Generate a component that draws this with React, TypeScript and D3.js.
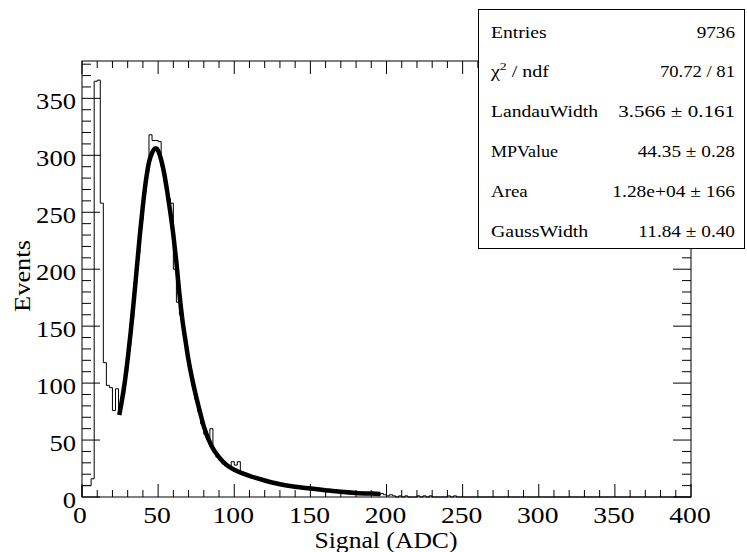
import React from 'react';
import * as d3 from 'd3';

const W = 747;
const H = 552;

const xDomain = [0, 400];
const yDomain = [0, 382.8];
const binWidth = 2;
const nBins = 200;

// histogram bin contents, bin i covers [2i, 2i+2]
const binCounts = [
  10, 10, 10, 16, 365, 366, 258, 118, 98, 96,
  76, 95, 77, 90, 110, 133, 157, 188, 214, 243,
  268, 286, 318, 313, 313, 312, 290, 276, 262, 258,
  200, 171, 160, 143, 127, 112, 98, 86, 75, 64,
  55, 50, 60, 40, 35, 32, 29, 27, 26, 31,
  28, 31, 22, 21, 19, 18, 17, 16, 15, 15,
  14, 13, 13, 12, 12, 11, 11, 10, 10, 9,
  9, 9, 8, 8, 8, 8, 7, 7, 6, 6,
  6, 6, 5, 5, 5, 5, 4, 4, 4, 4,
  4, 3, 4, 3, 3, 3, 3, 2, 3, 2,
  1, 2, 1, 0, 1, 0, 1, 0, 0, 0,
  1, 0, 1, 0, 1, 0, 0, 0, 0, 0,
  1, 0, 1,
];

// fit curve points
const fitX = [24.5, 26, 28, 30, 32, 34, 36, 38, 40, 42, 44, 46, 48, 49, 50, 52, 54, 56, 58, 60, 62, 64, 66, 68, 70, 72, 75, 78, 80, 85, 90, 95, 100, 105, 110, 120, 130, 140, 150, 160, 170, 180, 190, 196];
const fitY = [72, 83, 100, 121, 145, 172, 201, 230, 256, 278, 294, 302, 306, 306, 304, 296, 284, 268, 250, 230, 206, 178, 155, 137, 120, 106, 88, 72, 62, 45, 35, 28, 24, 21, 18.5, 14.5, 11.2, 9, 7.5, 6, 4.6, 3.6, 3, 2.7];

const xMajorTicks = [0, 50, 100, 150, 200, 250, 300, 350, 400];
const yMajorTicks = [0, 50, 100, 150, 200, 250, 300, 350];

const statsLabels = ['Entries', 'chi2', 'LandauWidth', 'MPValue', 'Area', 'GaussWidth'];
const statsValues = ['9736', '70.72 / 81', '3.566 \u00b1 0.161', '44.35 \u00b1 0.28', '1.28e+04 \u00b1 166', '11.84 \u00b1 0.40'];
const statsLabelWidths = [55.7, 58, 107, 67, 36.7, 97.3];
const statsValueWidths = [38.3, 75, 116.7, 97.3, 122.7, 96.7];

const FONT = "'Liberation Serif', 'Times New Roman', serif";

export default function App() {
  const x = d3.scaleLinear().domain(xDomain).range([82, 691]);
  const y = d3.scaleLinear().domain(yDomain).range([497, 61]);

  const histPts: [number, number][] = [[0, 0]];
  for (let i = 0; i < nBins; i++) {
    const lo = i * binWidth;
    const hi = lo + binWidth;
    const v = binCounts[i] ?? 0;
    histPts.push([lo, v], [hi, v]);
  }
  histPts.push([xDomain[1], 0]);
  const line = d3.line<[number, number]>().x(d => x(d[0])).y(d => y(d[1]));
  const histPath = line(histPts) || '';

  const fitPts: [number, number][] = fitX.map((v, i) => [v, fitY[i]]);
  const fitLine = d3.line<[number, number]>().x(d => x(d[0])).y(d => y(d[1])).curve(d3.curveMonotoneX);
  const fitPath = fitLine(fitPts) || '';

  const xMinor = d3.range(0, 401, 10).filter(v => v % 50 !== 0);
  const yMinor = d3.range(0, 381, 10).filter(v => v % 50 !== 0);

  const L = 82, R = 691, T = 61, B = 497;
  const ticks: JSX.Element[] = [];
  xMajorTicks.forEach((v, i) => {
    const px = x(v);
    ticks.push(<line key={'xb' + i} x1={px} x2={px} y1={B} y2={B - 13} />);
    ticks.push(<line key={'xt' + i} x1={px} x2={px} y1={T} y2={T + 13} />);
  });
  xMinor.forEach((v, i) => {
    const px = x(v);
    ticks.push(<line key={'xbm' + i} x1={px} x2={px} y1={B} y2={B - 7} />);
    ticks.push(<line key={'xtm' + i} x1={px} x2={px} y1={T} y2={T + 7} />);
  });
  yMajorTicks.forEach((v, i) => {
    const py = y(v);
    ticks.push(<line key={'yl' + i} x1={L} x2={L + 18} y1={py} y2={py} />);
    ticks.push(<line key={'yr' + i} x1={R} x2={R - 18} y1={py} y2={py} />);
  });
  yMinor.forEach((v, i) => {
    const py = y(v);
    ticks.push(<line key={'ylm' + i} x1={L} x2={L + 9} y1={py} y2={py} />);
    ticks.push(<line key={'yrm' + i} x1={R} x2={R - 9} y1={py} y2={py} />);
  });

  const rowBase = (i: number) => 37.5 + i * 39.9;

  return (
    <svg width={W} height={H} style={{ position: 'absolute', left: 0, top: 0, background: '#fff' }} xmlns="http://www.w3.org/2000/svg">
      <rect x={0} y={0} width={W} height={H} fill="#fff" />
      <path d={histPath} fill="none" stroke="#000" strokeWidth={1} />
      <path d={fitPath} fill="none" stroke="#000" strokeWidth={4.5} strokeLinejoin="round" strokeLinecap="butt" />
      <g stroke="#000" strokeWidth={1}>
        {ticks}
        <rect x={L} y={T} width={R - L} height={B - T} fill="none" />
      </g>
      <g fontFamily={FONT} fontSize={23} fill="#000">
        {xMajorTicks.map((v, i) => {
          const s = String(v);
          return (
            <text key={'xl' + i} x={v === 0 ? 80 : x(v) - 1} y={522.5} textAnchor="middle" textLength={13.8 * s.length} lengthAdjust="spacingAndGlyphs">{s}</text>
          );
        })}
        {yMajorTicks.map((v, i) => {
          const s = String(v);
          return (
            <text key={'yl' + i} x={76} y={y(v) + 11} textAnchor="end" textLength={13.3 * s.length} lengthAdjust="spacingAndGlyphs">{s}</text>
          );
        })}
        <text x={386} y={548} textAnchor="middle" textLength={143} lengthAdjust="spacingAndGlyphs">Signal (ADC)</text>
        <text transform="translate(30,276) rotate(-90)" fontSize={24} textAnchor="middle" textLength={72} lengthAdjust="spacingAndGlyphs">Events</text>
      </g>
      <rect x={478.5} y={9.5} width={266} height={239} fill="#fff" stroke="#000" strokeWidth={1} />
      <g fontFamily={FONT} fontSize={16} fill="#000">
        {statsLabels.map((s, i) => (
          s === 'chi2' ? (
            <text key={'sl' + i} x={491} y={rowBase(i)} textLength={statsLabelWidths[i]} lengthAdjust="spacingAndGlyphs">
              {'\u03c7'}<tspan fontSize={11} dy={-7}>2</tspan><tspan dy={7}>{' / ndf'}</tspan>
            </text>
          ) : (
            <text key={'sl' + i} x={491} y={rowBase(i)} textLength={statsLabelWidths[i]} lengthAdjust="spacingAndGlyphs">{s}</text>
          )
        ))}
        {statsValues.map((s, i) => (
          <text key={'sv' + i} x={735} y={rowBase(i)} textAnchor="end" textLength={statsValueWidths[i]} lengthAdjust="spacingAndGlyphs">{s}</text>
        ))}
      </g>
    </svg>
  );
}
